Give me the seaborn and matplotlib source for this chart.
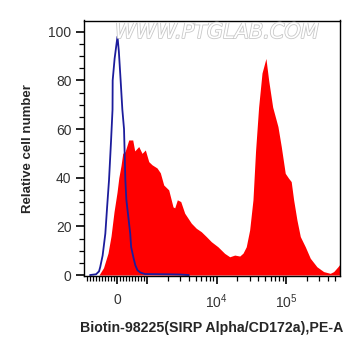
import numpy as np
import pandas as pd
import matplotlib
matplotlib.use('Agg')
import matplotlib.pyplot as plt
import matplotlib.patheffects as pe
import seaborn as sns

# fluorescence intensity (PE-A) and relative cell number
red_x = [-600, -450, -300, -200, -100, 0, 60, 133, 190, 267, 390, 523, 590, 723, 833, 943,
         1058, 1180, 1392, 1553, 1738, 2050, 2366, 2503, 2729, 3055, 3486, 4340, 5120, 6040,
         7130, 8420, 10500, 13100, 15500, 18300, 21600, 24100, 26800, 30000, 33500, 36500,
         40400, 45200, 51500, 56400, 64400, 76700, 85600, 97700, 109000, 119000, 129000,
         144000, 161000, 190000, 224000, 279000, 349000, 434000, 486000, 560000, 600000]
red_y = [0, 3, 9, 16, 26, 34, 40, 45, 50, 50.7, 55.5, 55.5, 51, 52.8, 50, 51.4,
         46.6, 45.3, 44, 42, 37, 35, 28, 27.6, 30.9, 30.2, 25.4, 21.3, 19.2, 17.8,
         15.8, 13.7, 11.6, 8.9, 7.5, 8.2, 7.8, 9, 11.6, 18.5, 30.9, 51,
         69, 83, 89, 80, 69, 61, 52.8, 41.8, 39.8, 38.4, 30.9,
         22.6, 15.8, 11.6, 6.9, 3.4, 1.4, 0.7, 1.4, 3.4, 4.5]

blue_x = [-900, -700, -600, -560, -480, -390, -330, -267, -200, -150, -145, -80, 15,
          60, 120, 177, 233, 277, 310, 440, 470, 550, 610, 680, 780, 930, 2000, 3000, 4000]
blue_y = [0, 0.3, 1.5, 3.3, 8, 17, 28, 39, 55, 68, 80, 89, 98,
          92, 80, 68, 60, 39, 31, 17, 11.5, 7, 4, 2, 1, 0.4, 0.3, 0.2, 0]

xtick_pos = [0, 1e3, 1e4, 1e5]
xtick_lab = ['0', '', '$10^4$', '$10^5$']

sns.set_style('ticks')
plt.rcParams['font.family'] = ['Liberation Sans', 'DejaVu Sans']
plt.rcParams['mathtext.fontset'] = 'custom'
plt.rcParams['mathtext.rm'] = 'Liberation Sans'

red = pd.DataFrame({'x': red_x, 'y': red_y})
blue = pd.DataFrame({'x': blue_x, 'y': blue_y})

fig = plt.figure(figsize=(3.64, 3.56), dpi=100)
ax = fig.add_axes([84 / 364, 80 / 356, 256 / 364, 255.5 / 356])

ax.fill_between(red['x'], red['y'], 0, color='#ff0000', linewidth=0)
sns.lineplot(data=blue, x='x', y='y', ax=ax, color='#1c1c9c', linewidth=1.3, sort=False)

ax.set_xscale('symlog', linthresh=1000, linscale=0.389)
ax.set_xlim(-1105, 600000)
ax.set_ylim(-0.4, 104.6)

ax.set_xticks(xtick_pos)
ax.set_xticklabels(xtick_lab)
minor = list(np.arange(-1000, 1001, 100)) + [k * 10 ** e for e in (3, 4, 5) for k in range(2, 10) if k * 10 ** e < 600000]
ax.set_xticks(minor, minor=True)
ax.set_yticks([0, 20, 40, 60, 80, 100])
ax.set_yticks(np.arange(0, 105, 5), minor=True)

ax.tick_params(axis='both', which='major', length=6, width=1.2, color='black',
               labelsize=10, labelcolor='#333333', pad=3)
ax.tick_params(axis='both', which='minor', length=3.5, width=0.9, color='black')
ax.tick_params(axis='x', which='major', pad=6)

for s in ax.spines.values():
    s.set_visible(True)
    s.set_linewidth(1.0)
    s.set_color('black')

ax.set_xlabel('Biotin-98225(SIRP Alpha/CD172a),PE-A', fontsize=10.2, fontweight='bold', labelpad=7)
ax.set_ylabel('Relative cell number', fontsize=9.5, fontweight='bold', labelpad=10)

fig.text(217 / 364, 1 - 32 / 356, 'WWW.PTGLAB.COM', ha='center', va='center', fontsize=15,
         style='italic', color='white', family='DejaVu Sans',
         path_effects=[pe.withStroke(linewidth=1.2, foreground='#c8c8c8')])

fig.savefig('out.png', dpi=100)
